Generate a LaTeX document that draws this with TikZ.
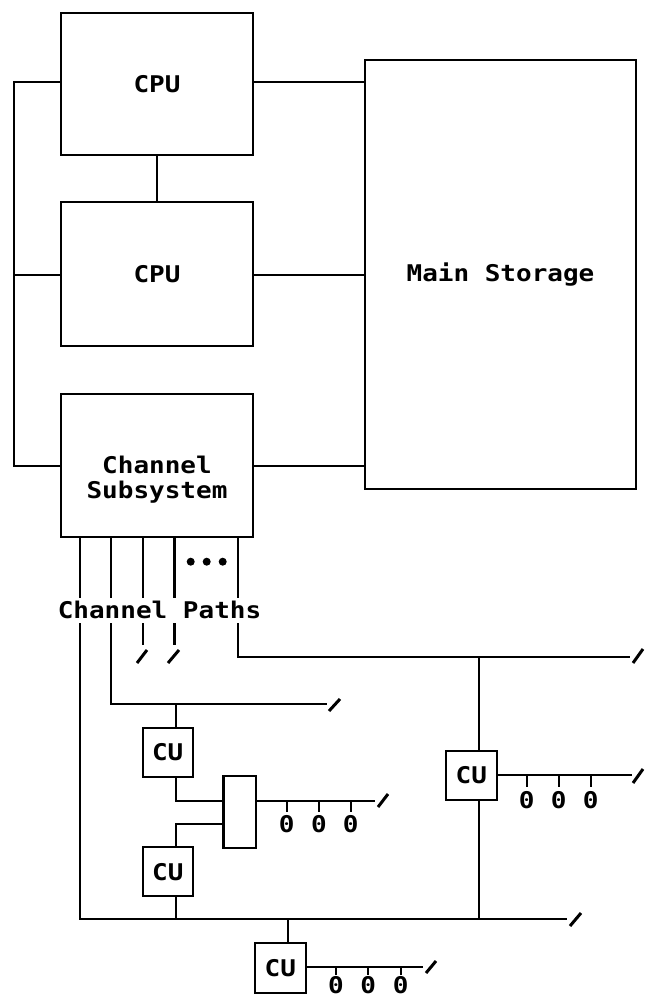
\documentclass[tikz,border=0pt]{standalone}
\usepackage{fontspec}
\newfontfamily\plotfont[FakeStretch=1.13]{DejaVu Sans Mono}
\newcommand\diaglbl{\plotfont\bfseries\fontsize{23}{25}\selectfont}
\begin{document}
\begin{tikzpicture}[x=1pt,y=-1pt,line width=2.3pt,
  blk/.style={draw,line width=2.3pt,inner sep=0pt,font=\diaglbl},
  txt/.style={inner sep=0pt,font=\diaglbl},
  slash/.style={line width=3pt},
  dotmark/.style={circle,fill,inner sep=0pt,minimum size=8pt}]
\useasboundingbox (0,0) rectangle (653,999);
% main boxes
\node[blk,minimum width=192pt,minimum height=142pt] (cpu1) at (157,84) {CPU};
\node[blk,minimum width=192pt,minimum height=144pt] (cpu2) at (157,274) {CPU};
\node[blk,minimum width=192pt,minimum height=143pt] (css) at (157,465.5) {};
\node[txt,align=center] (csst) at (157,480) {Channel\\Subsystem};
\node[blk,minimum width=271pt,minimum height=429pt] (ms) at (500.5,274.5) {Main Storage};
% left bus
\coordinate (lb1) at (14,82);
\coordinate (lb2) at (14,275);
\coordinate (lb3) at (14,466);
\draw (cpu1.west |- lb1) -- (lb1) -- (lb3) -- (css.west |- lb3);
\draw (lb2) -- (cpu2.west |- lb2);
% to main storage
\draw (cpu1.east |- lb1) -- (ms.west |- lb1);
\draw (cpu2.east |- lb2) -- (ms.west |- lb2);
\draw (css.east |- lb3) -- (ms.west |- lb3);
\draw (cpu1.south) -- (cpu2.north);
% channel paths
\node[txt] (cpl) at (159.5,610) {Channel Paths};
\node[dotmark] (d1) at (190.7,561.7) {};
\node[dotmark] (d2) at (206.7,561.7) {};
\node[dotmark] (d3) at (222.7,561.7) {};
\foreach \n/\x in {1/80,2/111,3/143,4/174.5,5/238}{
  \coordinate (p\n t) at (\x,598);
  \coordinate (p\n b) at (\x,623);
  \draw (css.south -| p\n t) -- (p\n t);
}
% paths 3 and 4: cut ends
\draw (p3b) -- (143,645);
\draw (p4b) -- (174.5,645);
\draw[slash] (137,663) -- ++(10,-13);
\draw[slash] (168,663) -- ++(11,-13);
% path 2
\coordinate (p2c) at (111,704);
\coordinate (p2e) at (327,704);
\coordinate (j2) at (176,704);
\draw (p2b) -- (p2c) -- (p2e);
\draw[slash] (329,711) -- ++(11,-12);
% path 5
\coordinate (p5c) at (238,657);
\coordinate (p5e) at (630,657);
\coordinate (j5) at (479,657);
\draw (p5b) -- (p5c) -- (p5e);
\draw[slash] (633,663) -- ++(10,-14);
% bottom bus (path 1)
\coordinate (bus1) at (80,919);
\coordinate (busE) at (567,919);
\draw (p1b) -- (bus1) -- (busE);
\draw[slash] (570,926) -- ++(11,-13);
% CU1, switch, CU2
\node[blk,minimum width=50pt,minimum height=49pt] (cu1) at (167.7,752.5) {CU};
\node[blk,minimum width=32.7pt,minimum height=72.3pt] (sw) at (239.7,812) {};
\node[blk,minimum width=50pt,minimum height=49pt] (cu2) at (167.8,871.7) {CU};
\coordinate (k1) at (176,801);
\coordinate (k2) at (176,824);
\draw (j2) -- (cu1.north -| j2);
\draw (cu1.south -| k1) -- (k1) -- (sw.west |- k1);
\draw (sw.west |- k2) -- (k2) -- (cu2.north -| k2);
\draw (cu2.south -| k2) -- (k2 |- bus1);
\coordinate (swe) at (375,801);
\draw (sw.east |- k1) -- (swe);
\draw[slash] (378,807) -- ++(10,-13);
\foreach \x [count=\i] in {286.7,319,350.7}{
  \draw (\x,801) -- (\x,812);
  \node[txt] (za\i) at (\x,824.5) {0};
}
% CU3
\node[blk,minimum width=50.7pt,minimum height=49pt] (cu3) at (471.3,775.5) {CU};
\draw (j5) -- (cu3.north -| j5);
\draw (cu3.south -| j5) -- (j5 |- bus1);
\coordinate (c3r) at (631.7,775);
\draw (cu3.east |- c3r) -- (c3r);
\draw[slash] (633,783) -- ++(10,-14);
\foreach \x [count=\i] in {526.7,558.7,590.7}{
  \draw (\x,775) -- (\x,787);
  \node[txt] (zb\i) at (\x,800) {0};
}
% CU4
\node[blk,minimum width=50.7pt,minimum height=50pt] (cu4) at (280.3,968) {CU};
\coordinate (j4) at (288.3,919);
\draw (j4) -- (cu4.north -| j4);
\coordinate (c4r) at (423,967);
\draw (cu4.east |- c4r) -- (c4r);
\draw[slash] (426,973) -- ++(10,-12);
\foreach \x [count=\i] in {336,368.3,400.7}{
  \draw (\x,967) -- (\x,975);
  \node[txt] (zc\i) at (\x,985) {0};
}
\end{tikzpicture}
\end{document}
